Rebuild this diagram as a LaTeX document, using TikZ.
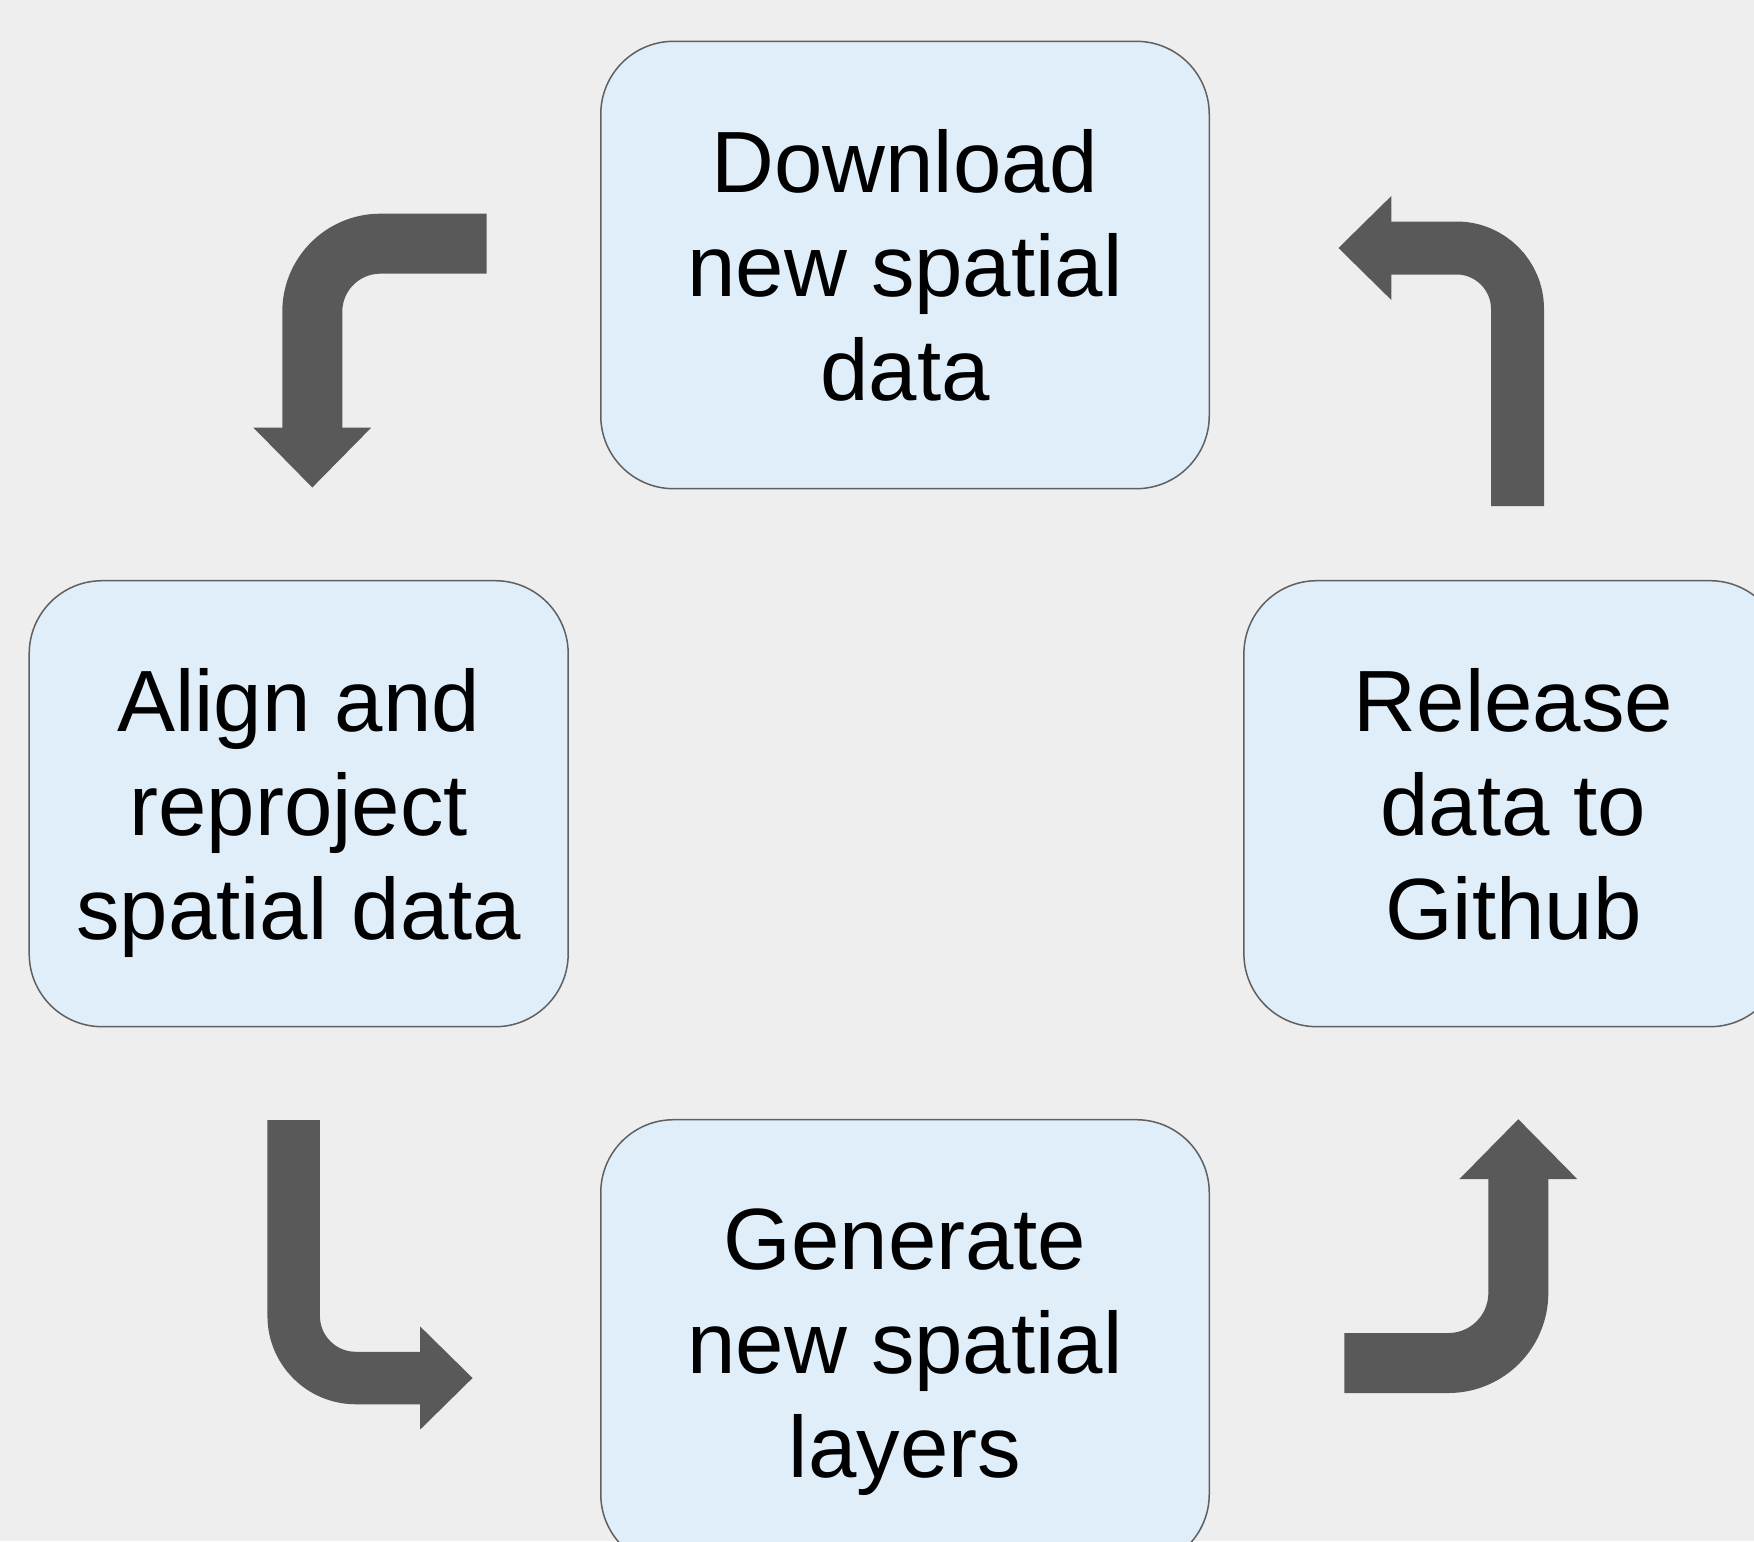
\documentclass[tikz,border=0pt]{standalone}
\usepackage{fontspec}
\setmainfont{Liberation Sans}
\usetikzlibrary{arrows.meta}
\definecolor{bggray}{HTML}{EEEEEE}
\definecolor{boxblue}{HTML}{DFEEF9}
\definecolor{boxline}{HTML}{606060}
\definecolor{arrowgray}{HTML}{595959}

\begin{document}
\begin{tikzpicture}[x=0.5pt,y=-0.5pt,
  stepbox/.style={draw=boxline, line width=0.75pt, fill=boxblue, rounded corners=36.5pt,
    inner sep=0pt, align=center, text depth=0pt, font=\fontsize{43.5}{52}\selectfont},
  widebox/.style={stepbox, minimum width=304.25pt, minimum height=223.7pt},
  narrowbox/.style={stepbox, minimum width=269.5pt, minimum height=223pt},
  fatarrow/.style 2 args={draw=arrowgray, line width=#1, rounded corners=#2,
    -{Triangle[width=0pt 1.9, length=0pt 1]}}]

  % Page and background
  \useasboundingbox (0,0) rectangle (1754,1541);
  \clip (0,0) rectangle (1754,1541);
  \fill[bggray] (0,0) rectangle (1754,1541);

  % The four steps
  \node[widebox] (download) at (905,265) {Download\\new spatial\\data};
  \node[narrowbox] (align) at (298.7,803.7) {Align and\\reproject\\spatial data};
  \node[narrowbox] (release) at (1513.4,803.7) {Release\\data to\\Github};
  \node[widebox] (generate) at (905,1343.4) {Generate\\new spatial\\layers};

  % Ends of the bent arrows
  \coordinate (dlout) at (486.7,243.7);
  \coordinate (alin) at (312.3,487.7);
  \coordinate (alout) at (293.7,1120);
  \coordinate (genin) at (472.7,1378);
  \coordinate (genout) at (1344.3,1363);
  \coordinate (relin) at (1518.3,1119);
  \coordinate (relout) at (1517.5,506);
  \coordinate (dlin) at (1338.3,248);

  % Draw the arrows round the cycle
  \draw[fatarrow={30pt}{34pt}] (dlout) -| (alin);
  \draw[fatarrow={26.25pt}{31pt}] (alout) |- (genin);
  \draw[fatarrow={30pt}{35pt}] (genout) -| (relin);
  \draw[fatarrow={26.5pt}{30.5pt}] (relout) |- (dlin);

\end{tikzpicture}
\end{document}
